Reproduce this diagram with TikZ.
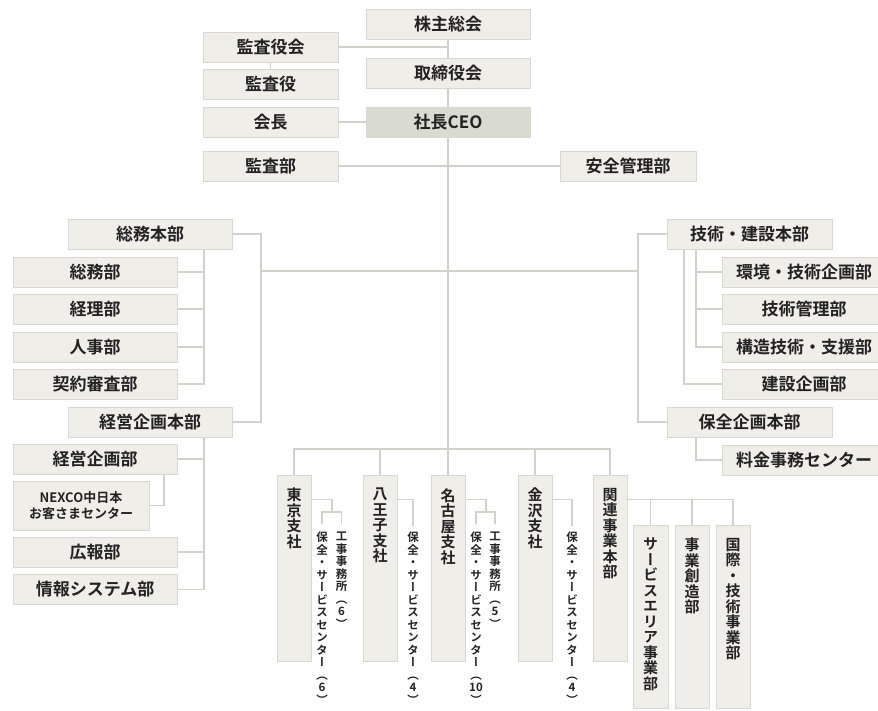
\documentclass[tikz,border=0pt]{standalone}
\usepackage{fontspec}
\setmainfont{Noto Sans CJK JP Bold}
\newfontfamily\jpv[RawFeature=+vert]{Noto Sans CJK JP Bold}
\definecolor{boxfill}{HTML}{EFEEE9}
\definecolor{ceofill}{HTML}{D9DAD0}
\definecolor{boxline}{HTML}{D8D7D0}
\definecolor{conn}{HTML}{D2D2CC}
\definecolor{txt}{HTML}{222222}
\pgfdeclarelayer{bg}
\pgfsetlayers{bg,main}
\tikzset{
 box/.style={draw=boxline, fill=boxfill, line width=0.8pt, minimum height=30pt, inner sep=0pt, text=txt, font=\fontsize{17}{19}\selectfont},
 hbox/.style={box, minimum width=164pt},
 sbox/.style={box, minimum width=135pt},
 vbox/.style={draw=boxline, fill=boxfill, line width=0.8pt, minimum width=34pt, inner sep=0pt},
 vtext/.style={anchor=north, align=center, text=txt, inner sep=0pt, font=\jpv\fontsize{15}{15.5}\selectfont},
 stext/.style={anchor=north, align=center, text=txt, inner sep=0pt, font=\jpv\fontsize{11.5}{12.5}\selectfont},
 link/.style={draw=conn, line width=1.3pt},
}
\begin{document}
\begin{tikzpicture}[x=1pt,y=-1pt]
\useasboundingbox (0,0) rectangle (878,711);
\clip (0,0) rectangle (878,711);
% top
\node[hbox] (kabu) at (448,24) {株主総会};
\node[sbox] (kkai) at (270.5,47) {監査役会};
\node[hbox] (tori) at (448,73) {取締役会};
\node[sbox] (kyaku) at (270.5,84) {監査役};
\node[sbox] (kaicho) at (270.5,122) {会長};
\node[hbox, fill=ceofill] (ceo) at (448,122) {社長CEO};
\node[sbox] (kbu) at (270.5,166) {監査部};
\node[box, minimum width=136pt] (anzen) at (628,166) {安全管理部};
% left
\node[hbox] (somuh) at (150,234) {総務本部};
\node[hbox] (somu) at (95,272) {総務部};
\node[hbox] (keiri) at (95,309) {経理部};
\node[hbox] (jinji) at (95,347) {人事部};
\node[hbox] (keiyaku) at (95,384) {契約審査部};
\node[hbox] (keieih) at (150,422) {経営企画本部};
\node[hbox] (keiei) at (95,459) {経営企画部};
\node[box, minimum width=136pt, minimum height=49pt, align=center, font=\fontsize{13}{15.5}\selectfont] (nexco) at (81,505.5) {NEXCO中日本\\お客さまセンター};
\node[hbox] (koho) at (95,552) {広報部};
\node[hbox] (joho) at (95,589.5) {情報システム部};
% right
\node[box, minimum width=165pt] (gijh) at (749.5,234) {技術・建設本部};
\node[hbox] (kankyo) at (804,272) {環境・技術企画部};
\node[hbox] (gkanri) at (804,309) {技術管理部};
\node[hbox] (kozo) at (804,347) {構造技術・支援部};
\node[hbox] (kensetsu) at (804,384) {建設企画部};
\node[box, minimum width=165pt] (hozen) at (749.5,422) {保全企画本部};
\node[hbox] (ryokin) at (804,460) {料金事務センター};
% bottom vertical boxes
\node[vbox, minimum height=186pt] (tokyo) at (294,568) {};
\node[vbox, minimum height=186pt] (hachi) at (380,568) {};
\node[vbox, minimum height=186pt] (nagoya) at (448,568) {};
\node[vbox, minimum height=186pt] (kanaz) at (535,568) {};
\node[vbox, minimum height=186pt] (kanren) at (610,568) {};
\node[vbox, minimum width=35pt, minimum height=183pt] (sa) at (650.5,616.5) {};
\node[vbox, minimum height=183pt] (sozo) at (692,616.5) {};
\node[vbox, minimum height=183pt] (kokusai) at (733,616.5) {};
\node[vtext] at (294,488) {東\\京\\支\\社};
\node[vtext] at (380,488) {八\\王\\子\\支\\社};
\node[vtext] at (448,488) {名\\古\\屋\\支\\社};
\node[vtext] at (535,488) {金\\沢\\支\\社};
\node[vtext] at (610,488) {関\\連\\事\\業\\本\\部};
\node[vtext] at (650.5,538) {サ\\ー\\ビ\\ス\\エ\\リ\\ア\\事\\業\\部};
\node[vtext] at (692,538) {事\\業\\創\\造\\部};
\node[vtext] at (733,538) {国\\際\\・\\技\\術\\事\\業\\部};
% sub texts
\node[stext] (tkh) at (322,532) {保\\全\\・\\サ\\ー\\ビ\\ス\\セ\\ン\\タ\\ー\\（\\6\\）};
\node[stext] (tkk) at (341.5,532) {工\\事\\事\\務\\所\\（\\6\\）};
\node[stext] (hch) at (413,532) {保\\全\\・\\サ\\ー\\ビ\\ス\\セ\\ン\\タ\\ー\\（\\4\\）};
\node[stext] (ngh) at (476,532) {保\\全\\・\\サ\\ー\\ビ\\ス\\セ\\ン\\タ\\ー\\（\\10\\）};
\node[stext] (ngk) at (495,532) {工\\事\\事\\務\\所\\（\\5\\）};
\node[stext] (knh) at (572,532) {保\\全\\・\\サ\\ー\\ビ\\ス\\セ\\ン\\タ\\ー\\（\\4\\）};
% connectors
\begin{pgfonlayer}{bg}
\fill[white] (0,0) rectangle (878,711);
\coordinate (bar) at (448,449);
\draw[link] (kabu.south) -- (kabu.south |- bar);
\draw[link] (kkai.east) -- (kkai.east -| kabu.south);
\draw[link] (kkai.south) -- (kyaku.north);
\draw[link] (kaicho.east) -- (ceo.west);
\draw[link] (kbu.east) -- (anzen.west);
\coordinate (lv) at (261,271);
\coordinate (rv) at (638,271);
\draw[link] (lv) -- (rv);
\draw[link] (somuh.east) -| (lv) |- (keieih.east);
\draw[link] (gijh.west) -| (rv) |- (hozen.west);
\coordinate (sv) at (204,249);
\draw[link] (sv) |- (keiyaku.east);
\foreach \n in {somu,keiri,jinji} \draw[link] (\n.east) -- (\n.east -| sv);
\coordinate (kv) at (204,437);
\draw[link] (kv) |- (joho.east);
\foreach \n in {keiei,koho} \draw[link] (\n.east) -- (\n.east -| kv);
\coordinate (nx) at (164,474);
\draw[link] (nx) |- (nexco.east);
\coordinate (g1) at (684,249);
\coordinate (g2) at (696,249);
\draw[link] (g1) |- (kensetsu.west);
\draw[link] (g2) |- (kozo.west);
\foreach \n in {kankyo,gkanri} \draw[link] (\n.west) -- (\n.west -| g2);
\coordinate (h1) at (696,437);
\draw[link] (h1) |- (ryokin.west);
% bottom bar
\draw[link] (tokyo.north) |- (bar) -| (kanren.north);
\foreach \n in {hachi,nagoya,kanaz} \draw[link] (\n.north) -- (\n.north |- bar);
\coordinate (kr) at ([yshift=-25pt]kanren.north east);
\draw[link] (kr) -| (kokusai.north);
\foreach \n in {sa,sozo} \draw[link] (\n.north) -- (\n.north |- kr);
% tokyo subs
\coordinate (tk) at ([yshift=-25pt]tokyo.north east);
\coordinate (tkj) at (332,512);
\draw[link] (tk) -| (tkj);
\draw[link] ([yshift=8pt]tkh.north) |- ([yshift=20pt]tkk.north) -- ([yshift=8pt]tkk.north);
% hachioji sub
\coordinate (hk) at ([yshift=-25pt]hachi.north east);
\draw[link] (hk) -| ([yshift=6pt]hch.north);
% nagoya subs
\coordinate (ng) at ([yshift=-25pt]nagoya.north east);
\coordinate (ngj) at (486,512);
\draw[link] (ng) -| (ngj);
\draw[link] ([yshift=8pt]ngh.north) |- ([yshift=20pt]ngk.north) -- ([yshift=8pt]ngk.north);
% kanazawa sub
\coordinate (kz) at ([yshift=-25pt]kanaz.north east);
\draw[link] (kz) -| ([yshift=6pt]knh.north);
\end{pgfonlayer}
\end{tikzpicture}
\end{document}
